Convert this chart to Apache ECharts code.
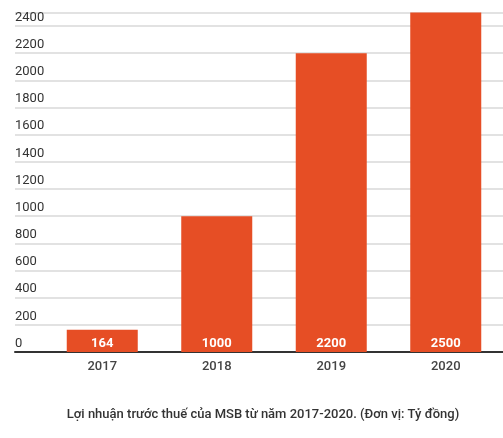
<!DOCTYPE html>
<html><head><meta charset="utf-8">
<script src="https://cdn.jsdelivr.net/npm/echarts@6/dist/echarts.min.js"></script>
<style>html,body{margin:0;padding:0;background:#fff}#c{width:503px;height:438px}</style>
</head><body><div id="c"></div>
<script>
const categories = ['2017', '2018', '2019', '2020'];
const profit = [164, 1000, 2200, 2500];
const caption = 'Lợi nhuận trước thuế của MSB từ năm 2017-2020. (Đơn vị: Tỷ đồng)';
const yMin = 0, yMax = 2500, yStep = 200;

const chart = echarts.init(document.getElementById('c'));
const font = 'Roboto, sans-serif';
chart.setOption({
  animation: false,
  textStyle: { fontFamily: font },
  title: {
    text: caption, left: 258, textAlign: 'center', top: 403,
    textStyle: { fontFamily: font, fontSize: 13, fontWeight: 500, color: '#333' }
  },
  grid: [
    { left: 45, right: -2, top: 12.4, bottom: 86, containLabel: false },
    { left: 15, right: 0, top: 12.4, bottom: 86, containLabel: false }
  ],
  xAxis: [
    { type: 'category', data: categories, gridIndex: 0,
      axisLine: { show: false }, axisTick: { show: false },
      axisLabel: { color: '#444', fontSize: 13, fontWeight: 500, margin: 8, fontFamily: font } },
    { type: 'value', gridIndex: 1, min: 0, max: 1,
      axisLine: { show: true, onZero: false, lineStyle: { color: '#333', width: 2 } },
      axisTick: { show: false }, axisLabel: { show: false }, splitLine: { show: false } }
  ],
  yAxis: [
    { type: 'value', gridIndex: 0, min: yMin, max: yMax, interval: yStep,
      axisLine: { show: false }, axisTick: { show: false }, splitLine: { show: false },
      axisLabel: { align: 'left', verticalAlign: 'bottom', margin: 30, padding: [0, 0, 2, 0],
        color: '#333', fontSize: 13, fontFamily: font,
        formatter: v => (v % yStep === 0 ? String(v) : '') } },
    { type: 'value', gridIndex: 1, min: yMin, max: yMax, interval: yStep,
      axisLine: { show: false }, axisTick: { show: false }, axisLabel: { show: false },
      splitLine: { show: true, lineStyle: { color: '#d9d9d9', width: 1.5 } } }
  ],
  series: [{
    type: 'bar', data: profit, xAxisIndex: 0, yAxisIndex: 0, barWidth: 71,
    itemStyle: { color: '#e64e25' },
    label: { show: true, position: 'insideBottom', distance: 2, color: '#fff',
      fontWeight: 'bold', fontSize: 13, fontFamily: font }
  }]
});
</script></body></html>
